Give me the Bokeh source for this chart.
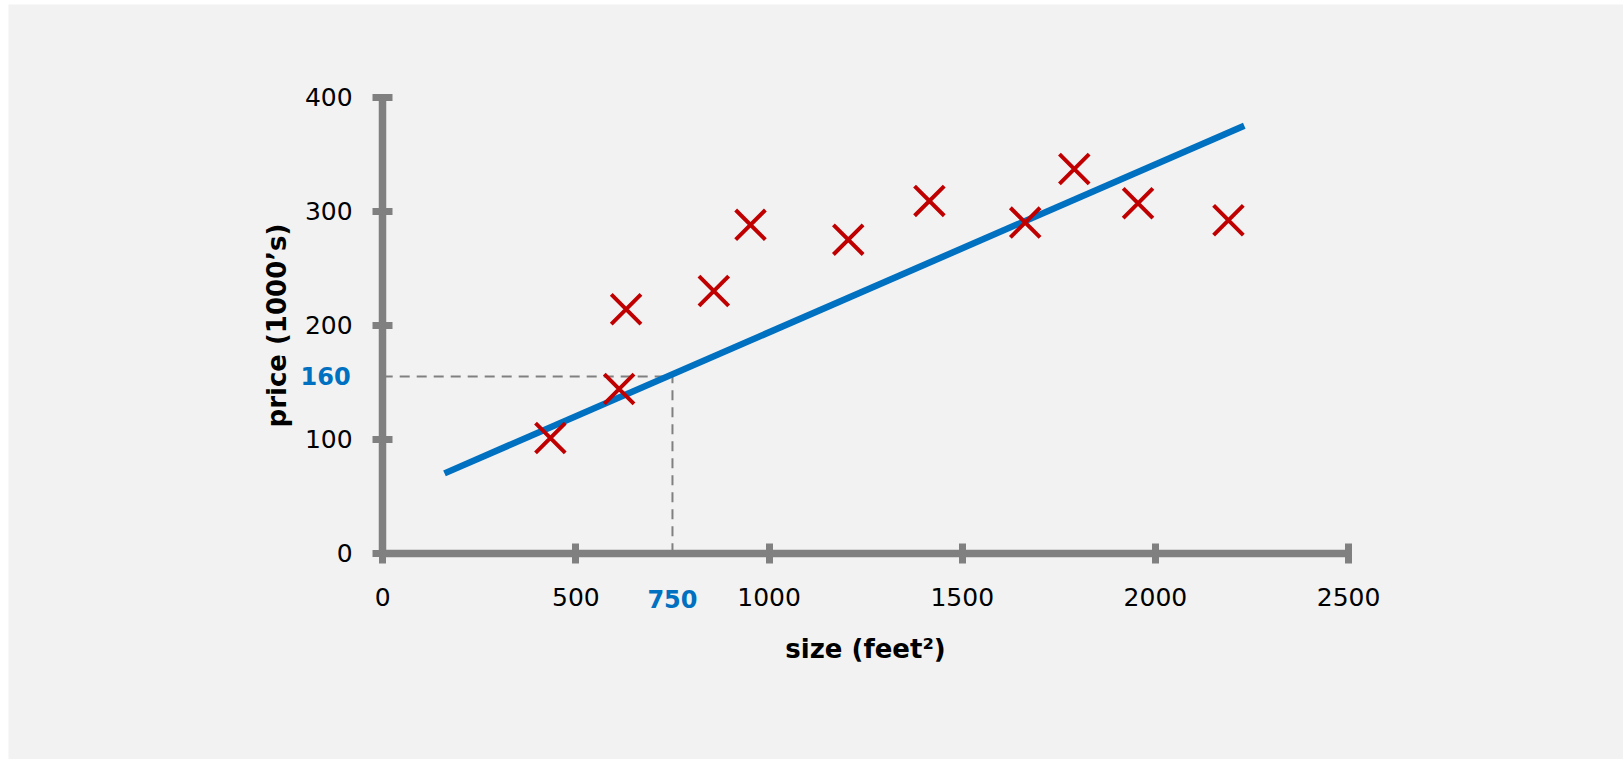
from bokeh.plotting import figure
from bokeh.models import Range1d, FixedTicker, Label
from bokeh.embed import file_html
from bokeh.resources import INLINE

# --- data ---
size_sqft = [434, 612, 630, 857, 952, 1205, 1415, 1663, 1790, 1955, 2189]
price_k = [101, 144, 214, 230, 288, 275, 309, 290, 337, 307, 292]

fit_x = [160, 2230]
fit_y = [70, 375]

query_x = 750
query_y = 155
query_x_label = "750"
query_y_label = "160"

x_ticks = [0, 500, 1000, 1500, 2000, 2500]
y_ticks = [0, 100, 200, 300, 400]

x_title = "size (feet\u00b2)"
y_title = "price (1000\u2019s)"

FONT = "DejaVu Sans"
BG = "#F2F2F2"
AXIS = "#808080"

# the frame spans the whole grey panel; axes sit at x=0 / y=0 inside it
p = figure(width=1623, height=759, output_backend="svg", toolbar_location=None,
           x_range=Range1d(-968.5, 3211.5), y_range=Range1d(-181.0, 481.3),
           min_border_left=8, min_border_right=0,
           min_border_top=4, min_border_bottom=0)
p.background_fill_color = BG
p.border_fill_color = "#FFFFFF"
p.outline_line_color = None
p.grid.visible = False

xa = p.xaxis[0]
ya = p.yaxis[0]
xa.fixed_location = 0
ya.fixed_location = 0
xa.bounds = (x_ticks[0], x_ticks[-1])
ya.bounds = (y_ticks[0], y_ticks[-1])

for ax in (xa, ya):
    ax.axis_line_color = AXIS
    ax.axis_line_width = 7.5
    ax.major_tick_line_color = AXIS
    ax.major_tick_line_width = 7
    ax.major_tick_in = 10
    ax.major_tick_out = 10
    ax.minor_tick_line_color = None
    ax.major_label_text_font = FONT
    ax.major_label_text_font_size = "25px"
    ax.major_label_text_color = "#000000"
    ax.axis_label_text_font = FONT
    ax.axis_label_text_font_size = "26px"
    ax.axis_label_text_font_style = "bold"
    ax.axis_label_text_color = "#000000"

xa.ticker = FixedTicker(ticks=x_ticks)
ya.ticker = FixedTicker(ticks=y_ticks)
xa.axis_label = x_title
ya.axis_label = y_title
xa.major_label_standoff = 25
ya.major_label_standoff = 20
xa.axis_label_standoff = 24
ya.axis_label_standoff = 10

# dashed guide lines
p.line([0, query_x], [query_y, query_y], line_color=AXIS, line_width=2, line_dash="10 7")
p.line([query_x, query_x], [0, query_y], line_color=AXIS, line_width=2, line_dash="10 7")

# regression line
p.line(fit_x, fit_y, line_color="#0070C0", line_width=6.5)

# data points
p.scatter(size_sqft, price_k, marker="x", size=42, line_color="#C00000", line_width=4)

p.add_layout(Label(x=query_x, y=-40, text=query_x_label, text_align="center",
                   text_baseline="middle", text_font=FONT, text_font_size="24px",
                   text_font_style="bold", text_color="#0070C0"))
p.add_layout(Label(x=0, y=query_y, x_offset=-32, text=query_y_label, text_align="right",
                   text_baseline="middle", text_font=FONT, text_font_size="24px",
                   text_font_style="bold", text_color="#0070C0"))

open("out.html", "w").write(file_html(p, INLINE))
